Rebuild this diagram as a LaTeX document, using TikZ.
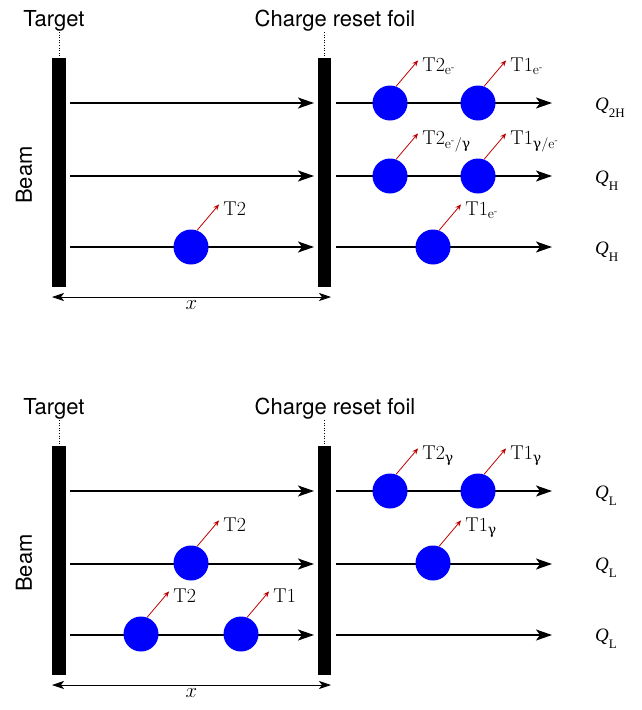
\documentclass[tikz,border=0pt]{standalone}
\usepackage{amsmath}
\usepackage{fontspec}
\newfontfamily\hv{TeX Gyre Heros}
\newfontfamily\tm{Liberation Serif}
\newfontfamily\grk{DejaVu Serif}
\newcommand{\gam}{\text{\grk γ}}
\newcommand{\elec}{\mathrm{e}^{\text{-}}}
\newcommand{\qlab}[1]{{\tm\itshape Q}\raisebox{-7pt}{\tm\fontsize{13}{13}\selectfont #1}}
\usetikzlibrary{arrows.meta}
\begin{document}
\begin{tikzpicture}[x=1pt,y=-1pt,
  bar/.style={fill=black,draw=none},
  beamarrow/.style={line width=1.5pt,-{Stealth[length=16pt,width=11pt,inset=4pt]}},
  particle/.style={circle,fill=blue,draw=none,minimum size=35pt,inner sep=0pt},
  emit/.style={draw=red!75!black,line width=0.8pt,-{Stealth[length=6pt,width=5pt]}},
  tlabel/.style={anchor=base west,font=\fontsize{20}{24}\selectfont,inner sep=0pt,xshift=4pt,yshift=-11pt},
  qlabel/.style={anchor=base west,font=\fontsize{19}{22}\selectfont,inner sep=0pt},
  toplabel/.style={font=\hv\fontsize{22}{26}\selectfont,inner sep=0pt},
  dim/.style={line width=0.7pt,{Stealth[length=12pt,width=8pt,inset=3pt]}-{Stealth[length=12pt,width=8pt,inset=3pt]}},
  leader/.style={dotted,line width=0.6pt}]
\useasboundingbox (0,0) rectangle (641,710);

\foreach \p/\o in {A/0,B/388}{
  % bars
  \path[bar] (52,58+\o) rectangle (66,287+\o);
  \path[bar] (318,58+\o) rectangle (331,287+\o);
  \node[toplabel,anchor=base] (\p tgt) at (54,26+\o) {Target};
  \node[toplabel,anchor=base] (\p foil) at (335,26+\o) {Charge reset foil};
  \draw[leader] (59,32+\o) -- (59,58+\o);
  \draw[leader] (324,32+\o) -- (324,58+\o);
  \node[toplabel,rotate=90] (\p beam) at (24,175+\o) {Beam};
  % dimension
  \coordinate (\p dl) at (52,297+\o);
  \coordinate (\p dr) at (331,297+\o);
  \draw[dim] (\p dl) -- node[below=3pt,font=\fontsize{21}{24}\selectfont,inner sep=0pt] {$x$} (\p dr);
  % beam lines
  \foreach \r/\y in {1/103,2/176,3/247}{
    \coordinate (\p L\r s) at (70,\y+\o);
    \coordinate (\p L\r e) at (314,\y+\o);
    \coordinate (\p R\r s) at (336,\y+\o);
    \coordinate (\p R\r e) at (552,\y+\o);
    \draw[beamarrow] (\p L\r s) -- (\p L\r e);
    \draw[beamarrow] (\p R\r s) -- (\p R\r e);
  }
}

% ---------- top panel ----------
\node[particle] (a1) at (390,103) {};
\node[particle] (a2) at (478,103) {};
\node[particle] (a3) at (390,176) {};
\node[particle] (a4) at (478,176) {};
\node[particle] (a5) at (191,247) {};
\node[particle] (a6) at (433,247) {};
\draw[emit] (a1.70) -- ++(22,-26) coordinate (e1) node[tlabel] {T2$_{\elec}$};
\draw[emit] (a2.70) -- ++(22,-26) coordinate (e2) node[tlabel] {T1$_{\elec}$};
\draw[emit] (a3.70) -- ++(22,-26) coordinate (e3) node[tlabel] {T2$_{\elec/\gam}$};
\draw[emit] (a4.70) -- ++(22,-26) coordinate (e4) node[tlabel] {T1$_{\gam/\elec}$};
\draw[emit] (a5.70) -- ++(22,-26) coordinate (e5) node[tlabel] {T2};
\draw[emit] (a6.70) -- ++(22,-26) coordinate (e6) node[tlabel] {T1$_{\elec}$};
\node[qlabel] (q1) at (595,110) {\qlab{2H}};
\node[qlabel] (q2) at (595,183) {\qlab{H}};
\node[qlabel] (q3) at (595,254) {\qlab{H}};

% ---------- bottom panel ----------
\node[particle] (b1) at (390,491) {};
\node[particle] (b2) at (478,491) {};
\node[particle] (b3) at (191,563) {};
\node[particle] (b4) at (433,563) {};
\node[particle] (b5) at (141,634) {};
\node[particle] (b6) at (241,634) {};
\draw[emit] (b1.70) -- ++(22,-26) coordinate (f1) node[tlabel] {T2$_{\gam}$};
\draw[emit] (b2.70) -- ++(22,-26) coordinate (f2) node[tlabel] {T1$_{\gam}$};
\draw[emit] (b3.70) -- ++(22,-26) coordinate (f3) node[tlabel] {T2};
\draw[emit] (b4.70) -- ++(22,-26) coordinate (f4) node[tlabel] {T1$_{\gam}$};
\draw[emit] (b5.70) -- ++(22,-26) coordinate (f5) node[tlabel] {T2};
\draw[emit] (b6.70) -- ++(22,-26) coordinate (f6) node[tlabel] {T1};
\node[qlabel] (q4) at (595,498) {\qlab{L}};
\node[qlabel] (q5) at (595,570) {\qlab{L}};
\node[qlabel] (q6) at (595,641) {\qlab{L}};
\end{tikzpicture}
\end{document}
